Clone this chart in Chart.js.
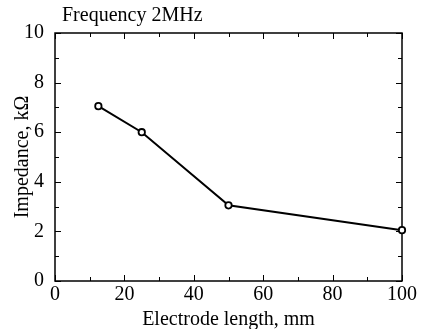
<!DOCTYPE html>
<html>
<head>
<meta charset="utf-8">
<script src="https://cdn.jsdelivr.net/npm/chart.js@4/dist/chart.umd.min.js"></script>
<style>
  html, body { margin: 0; padding: 0; background: #fff; }
  #wrap { width: 427px; height: 329px; }
</style>
</head>
<body>
<div id="wrap"><canvas id="chart"></canvas></div>
<script>
// data
var lengths = [12.5, 25, 50, 100];
var impedance = [7.05, 6.0, 3.05, 2.05];
var chartTitle = "Frequency 2MHz";
var xTitle = "Electrode length, mm";
var yTitle = "Impedance, k\u03A9";

var serif = '"Liberation Serif", "Times New Roman", serif';

var points = [];
for (var i = 0; i < lengths.length; i++) {
    points.push({ x: lengths[i], y: impedance[i] });
}

function seg(ctx, x1, y1, x2, y2) {
    ctx.beginPath();
    ctx.moveTo(x1, y1);
    ctx.lineTo(x2, y2);
    ctx.stroke();
}

// box round the plot, inward ticks on all four sides, label at top
var frame = {
    id: 'frame',
    beforeDatasetsDraw: function(chart) {
        var ctx = chart.ctx, a = chart.chartArea;
        var xs = chart.scales.x, ys = chart.scales.y;
        ctx.save();
        ctx.strokeStyle = '#000';
        ctx.lineWidth = 1.5;
        ctx.strokeRect(a.left, a.top, a.right - a.left, a.bottom - a.top);
        ctx.lineWidth = 1;
        for (var v = xs.min; v <= xs.max; v += 10) {
            var px = Math.round(xs.getPixelForValue(v)) + 0.5;
            var len = (v % 20 === 0) ? 6 : 4;
            seg(ctx, px, a.bottom, px, a.bottom - len);
            seg(ctx, px, a.top, px, a.top + len);
        }
        for (var w = ys.min; w <= ys.max; w += 1) {
            var py = Math.round(ys.getPixelForValue(w)) + 0.5;
            var l2 = (w % 2 === 0) ? 6 : 4;
            seg(ctx, a.left, py, a.left + l2, py);
            seg(ctx, a.right, py, a.right - l2, py);
        }
        ctx.fillStyle = '#000';
        ctx.font = '20px ' + serif;
        ctx.textAlign = 'left';
        ctx.textBaseline = 'middle';
        ctx.fillText(chartTitle, a.left + 7, 16);
        ctx.restore();
    }
};

new Chart(document.getElementById('chart'), {
    type: 'scatter',
    data: {
        datasets: [{
            data: points,
            showLine: true,
            borderColor: '#000',
            borderWidth: 2,
            backgroundColor: '#fff',
            pointRadius: 3.2,
            pointBorderWidth: 1.8,
            pointBorderColor: '#000',
            pointBackgroundColor: '#fff',
            clip: false
        }]
    },
    options: {
        responsive: true,
        maintainAspectRatio: false,
        animation: false,
        layout: { padding: { top: 33, right: 25, left: 0, bottom: 0 } },
        plugins: {
            legend: { display: false },
            tooltip: { enabled: false }
        },
        scales: {
            x: {
                type: 'linear',
                min: 0,
                max: 100,
                grid: { display: false },
                border: { display: false },
                ticks: { stepSize: 20, color: '#000', padding: -6, font: { family: serif, size: 20 } },
                title: { display: true, text: xTitle, color: '#000', padding: { top: 0, bottom: -3 }, font: { family: serif, size: 20 } },
                afterFit: function(s) { s.height = 48; }
            },
            y: {
                min: 0,
                max: 10,
                grid: { display: false },
                border: { display: false },
                ticks: { stepSize: 2, color: '#000', padding: 3, font: { family: serif, size: 20 } },
                title: { display: true, text: yTitle, color: '#000', padding: { top: 11, bottom: 0 }, font: { family: serif, size: 20 } },
                afterFit: function(s) { s.width = 55; }
            }
        }
    },
    plugins: [frame]
});
</script>
</body>
</html>
